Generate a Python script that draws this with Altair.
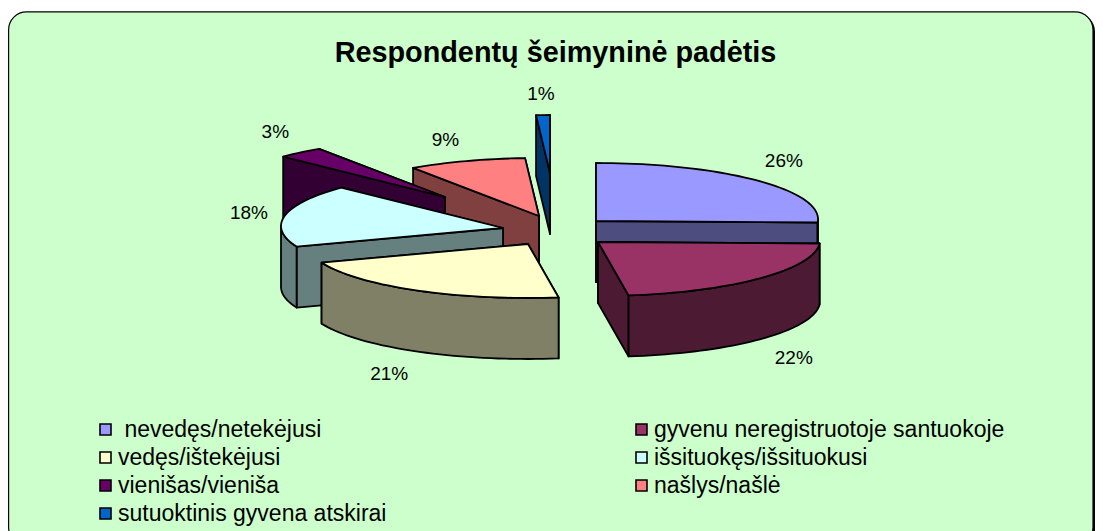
import math
import altair as alt

TITLE = "Respondentų šeimyninė padėtis"
names = ["nevedęs/netekėjusi", "gyvenu neregistruotoje santuokoje", "vedęs/ištekėjusi",
         "išsituokęs/išsituokusi", "vienišas/vieniša", "našlys/našlė", "sutuoktinis gyvena atskirai"]
values = [26, 21.8, 21.2, 18, 3.4, 8.6, 1]
labels = ["26%", "22%", "21%", "18%", "3%", "9%", "1%"]
top_colors = ["#9999FF", "#993366", "#FFFFCC", "#CCFFFF", "#660066", "#FF8080", "#0066CC"]
side_colors = ["#4D4D80", "#4D1A33", "#808066", "#668080", "#330033", "#804040", "#003366"]

# layout of the exploded 3-D pie, in page pixels (the projection moves them by the page margin)
RX, RY, DEPTH, RIM_SHIFT = 222, 56, 61, -2
apex = [(596, 221), (598, 242), (528, 244), (503, 228), (445, 197), (539, 216), (550, 173)]
label_nudge = [(26, -20), (33, 19), (-27, 23), (-36, -3), (-25, -21), (-21, -21), (-2, -21)]
paint_order = [6, 5, 4, 3, 2, 0, 1]


def rim(i, deg):
    t = math.radians(deg)
    return (apex[i][0] + RX * math.sin(t), apex[i][1] + RIM_SHIFT - RY * math.cos(t))


def arc(i, a, b):
    n = max(2, int(abs(b - a) / 2) + 2)
    return [rim(i, a + (b - a) * k / (n - 1)) for k in range(n)]


def feature(points, key):
    ring = [list(p) for p in points] + [list(points[0])]
    return {"type": "Feature", "geometry": {"type": "Polygon", "coordinates": [ring]},
            "properties": {"key": key}}


total = sum(values)
edges = [0]
for v in values:
    edges.append(edges[-1] + v / total * 360)

features, text_rows = [], []
for i in paint_order:
    a, b = edges[i], edges[i + 1]
    ap = apex[i]
    side_key = names[i] + " (side)"
    faces = []
    for deg in (a, b):
        p = rim(i, deg)
        faces.append((p[1], [ap, p, (p[0], p[1] + DEPTH), (ap[0], ap[1] + DEPTH)]))
    for _, f in sorted(faces, key=lambda x: x[0]):
        features.append(feature(f, side_key))
    lo, hi = max(a, 90), min(b, 270)
    if hi > lo:
        front = arc(i, lo, hi)
        features.append(feature(front + [(x, y + DEPTH) for x, y in reversed(front)], side_key))
    features.append(feature([ap] + arc(i, a, b), names[i]))

for i in range(len(names)):
    mid = (edges[i] + edges[i + 1]) / 2
    x, y = rim(i, mid)
    if 90 < mid < 270:
        y += DEPTH
    text_rows.append({"lon": x + label_nudge[i][0], "lat": y + label_nudge[i][1], "label": labels[i]})

proj = dict(type="identity", scale=1, translate=[-8, -8])
FONT = "Liberation Sans"

shadow = alt.Chart(alt.Data(values=[{"a": 1}])).mark_rect(fill="black", cornerRadius=18).encode(
    x=alt.value(3), x2=alt.value(1087), y=alt.value(5.5), y2=alt.value(540))
card = alt.Chart(alt.Data(values=[{"a": 1}])).mark_rect(
    fill="#CCFFCC", stroke="black", strokeWidth=1.2, cornerRadius=18).encode(
    x=alt.value(0.6), x2=alt.value(1085), y=alt.value(3.8), y2=alt.value(537))

pie = alt.Chart(alt.Data(values=features)).mark_geoshape(
    stroke="black", strokeWidth=1.8, strokeJoin="round").encode(
    color=alt.Color(
        "properties.key:N",
        scale=alt.Scale(domain=names + [n + " (side)" for n in names], range=top_colors + side_colors),
        legend=alt.Legend(
            values=names, title=None, orient="none", legendX=86, legendY=409,
            direction="horizontal", columns=2, padding=0,
            symbolType="square", symbolSize=121, symbolStrokeColor="black", symbolStrokeWidth=1.6,
            labelFont=FONT, labelFontSize=23, labelColor="black", labelLimit=500, labelOffset=1,
            labelExpr="(indexof(datum.label, 'nevedęs') == 0 ? '\u200b\u00a0' : '') + datum.label",
            columnPadding=243, rowPadding=3, clipHeight=25,
        ),
    )
).project(**proj)

text = alt.Chart(alt.Data(values=text_rows)).mark_text(
    font=FONT, fontSize=19, color="black", baseline="middle", align="center").encode(
    longitude="lon:Q", latitude="lat:Q", text="label:N").project(**proj)

chart = alt.layer(shadow, card, pie, text).properties(
    width=1087, height=523, padding=0,
    autosize=alt.AutoSizeParams(type="none"),
    background="white",
    title=alt.TitleParams(TITLE, font=FONT, fontSize=28.8, fontWeight="bold", color="black",
                          anchor="middle", dx=4, dy=60, offset=0),
).configure_view(stroke=None)

chart.save("out.html", embed_options={"renderer": "svg", "actions": False})
